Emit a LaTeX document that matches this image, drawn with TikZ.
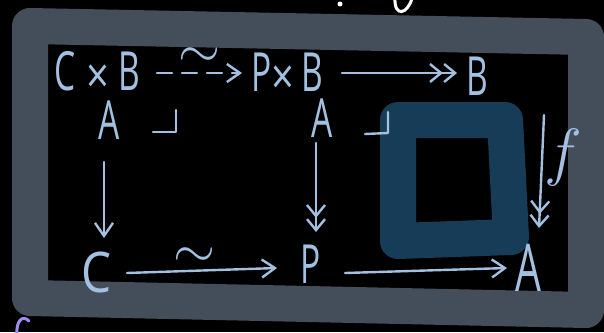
\RequirePackage{fix-cm}
\documentclass[tikz,border=0pt]{standalone}
\usepackage{fontspec}
\usepackage{graphicx}
\usetikzlibrary{arrows.meta}
\newfontfamily\hand{Open Sans}
\definecolor{ink}{HTML}{A3C0E0}
\definecolor{framec}{HTML}{434E5A}
\definecolor{sqc}{HTML}{173C58}
\definecolor{purp}{HTML}{9F8CF2}
\newcommand{\hw}[1]{\scalebox{0.62}[1]{#1}}
\newcommand{\tms}{\raisebox{-3pt}{\fontsize{50}{50}\selectfont\scalebox{0.8}[1]{×}}}
\begin{document}
\begin{tikzpicture}[x=1pt,y=-1pt,
  obj/.style={inner sep=0pt, outer sep=0pt, text=ink, font=\hand\fontsize{54}{54}\selectfont},
  lab/.style={inner sep=0pt, outer sep=0pt, text=ink, font=\fontsize{54}{54}\selectfont},
  inkline/.style={draw=ink, line width=2.4pt, line cap=round, line join=round},
  arr/.style={inkline, -{Straight Barb[length=13pt,width=18pt]}},
  epi/.style={inkline, -{Straight Barb[length=11pt,width=18pt] Straight Barb[length=11pt,width=18pt]}},
]
\useasboundingbox (0,0) rectangle (604,332);
\fill[black] (0,0) rectangle (604,332);
% frame
\draw[framec, line width=36pt, line join=round] (30,26) -- (586,37) -- (586,310) -- (30,298) -- cycle;
% blue square
\draw[sqc, line width=36pt, line join=round] (398,120) -- (505,120) -- (511,237) -- (398,241) -- cycle;
% stray marks
\fill[white] (340,4) circle (2.5);
\draw[white, line width=3pt, line cap=round] (395,-2) .. controls (394,18) and (408,14) .. (412,-2);
\draw[purp, line width=3pt, line cap=round] (29,321) .. controls (22,314) and (16,322) .. (17,334);
% objects
\node[obj] (cb) at (97,72) {\hw{C}\hspace{11pt}\tms\hspace{9pt}\hw{B}};
\node[obj] (pb) at (287,74) {\hw{P}\hspace{0pt}\tms\hspace{7pt}\hw{B}};
\node[obj] (b) at (477,76) {\hw{B}};
\node[obj] (a1) at (109,120) {\hw{A}};
\node[obj] (a2) at (322,118) {\hw{A}};
\node[obj, font=\hand\fontsize{56}{56}\selectfont] (c) at (97,272) {\scalebox{0.85}[1]{C}};
\node[obj] (p) at (311,264) {\hw{P}};
\node[obj, font=\hand\fontsize{66}{66}\selectfont] (a3) at (528,268) {\hw{A}};
% labels
\node[lab] (t1) at (199,58) {$\sim$};
\node[lab] (t2) at (194,258) {$\sim$};
\node[lab, font=\fontsize{64}{64}\selectfont] (fl) at (563,157) {$f$};
% arrows
\draw[arr, dash pattern=on 15pt off 10pt] ([shift={(60,1)}]cb.center) -- ([shift={(-45,-1)}]pb.center);
\draw[epi] ([shift={(55,-1)}]pb.center) -- ([shift={(-20,-3)}]b.center);
\draw[arr] ([shift={(-5,42)}]a1.center) -- ([shift={(7,-34)}]c.center);
\draw[epi] ([shift={(-6,25)}]a2.center) -- ([shift={(5,-32)}]p.center);
\draw[epi] ([shift={(67,39)}]b.center) -- ([shift={(11,-40)}]a3.center);
\draw[arr] ([shift={(30,1)}]c.center) -- ([shift={(-34,4)}]p.center);
\draw[arr] ([shift={(34,9)}]p.center) -- ([shift={(-21,0)}]a3.center);
% pullback corners
\draw[inkline] (153,132) -- (176,132) -- (176,110);
\draw[inkline] (365,134) -- (388,133) -- (388,112);
\end{tikzpicture}
\end{document}
